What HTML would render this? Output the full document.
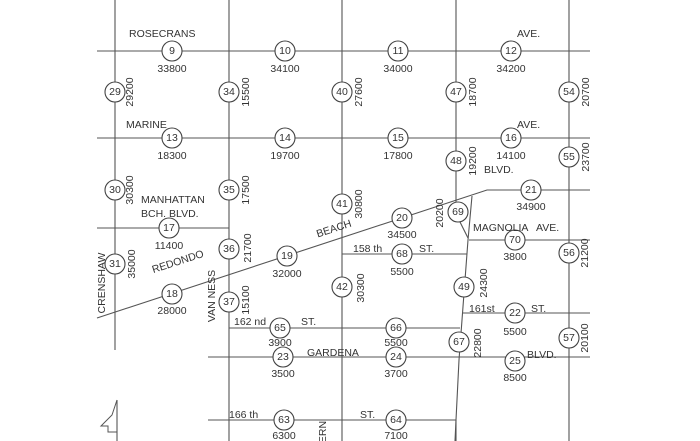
<!DOCTYPE html>
<html><head><meta charset="utf-8"><style>
html,body{margin:0;padding:0;background:#fff;}
svg{display:block;}
text{font-family:"Liberation Sans",sans-serif;font-size:10.5px;fill:#333;}
</style></head><body>
<svg width="700" height="441" viewBox="0 0 700 441" xmlns="http://www.w3.org/2000/svg">
<rect width="700" height="441" fill="#fff"/>
<g stroke="#555" stroke-width="1.1" fill="none">
<!-- verticals -->
<line x1="115" y1="0" x2="115" y2="350"/>
<line x1="229" y1="0" x2="229" y2="441"/>
<line x1="342" y1="0" x2="342" y2="441"/>
<line x1="456" y1="0" x2="456" y2="207"/>
<line x1="569" y1="0" x2="569" y2="441"/>
<!-- horizontals -->
<line x1="97" y1="51" x2="590" y2="51"/>
<line x1="97" y1="138" x2="590" y2="138"/>
<line x1="97" y1="228" x2="229" y2="228"/>
<polyline points="97,318 487,190 590,190"/>
<line x1="342" y1="254" x2="467" y2="254"/>
<line x1="469" y1="240" x2="590" y2="240"/>
<line x1="229" y1="328" x2="460" y2="328"/>
<line x1="208" y1="357" x2="590" y2="357"/>
<line x1="462" y1="313" x2="590" y2="313"/>
<line x1="208" y1="420" x2="456" y2="420"/>
<!-- curvy road -->
<polyline points="472,196 468,240 459,360 456,420 455,441"/>
<line x1="459" y1="220" x2="468" y2="238"/>
<line x1="456" y1="420" x2="456" y2="441"/>
<!-- north arrow -->
<polyline points="117,400 117,441"/>
<polyline points="117,400 112,415 101,426 108,426 108,432 117,432" stroke-width="1"/>
</g>
<g stroke="#444" stroke-width="1.1" fill="#fff">
<circle cx="172" cy="51" r="10"/><circle cx="285" cy="51" r="10"/><circle cx="398" cy="51" r="10"/><circle cx="511" cy="51" r="10"/>
<circle cx="115" cy="92" r="10"/><circle cx="229" cy="92" r="10"/><circle cx="342" cy="92" r="10"/><circle cx="456" cy="92" r="10"/><circle cx="569" cy="92" r="10"/>
<circle cx="172" cy="138" r="10"/><circle cx="285" cy="138" r="10"/><circle cx="398" cy="138" r="10"/><circle cx="511" cy="138" r="10"/>
<circle cx="115" cy="190" r="10"/><circle cx="229" cy="190" r="10"/><circle cx="342" cy="204" r="10"/><circle cx="456" cy="161" r="10"/><circle cx="569" cy="157" r="10"/>
<circle cx="169" cy="228" r="10"/><circle cx="229" cy="249" r="10"/><circle cx="115" cy="264" r="10"/><circle cx="172" cy="294" r="10"/>
<circle cx="287" cy="256" r="10"/><circle cx="402" cy="218" r="10"/><circle cx="458" cy="212" r="10"/><circle cx="531" cy="190" r="10"/>
<circle cx="402" cy="254" r="10"/><circle cx="515" cy="240" r="10"/><circle cx="569" cy="253" r="10"/><circle cx="342" cy="287" r="10"/>
<circle cx="229" cy="302" r="10"/><circle cx="464" cy="287" r="10"/>
<circle cx="280" cy="328" r="10"/><circle cx="396" cy="328" r="10"/><circle cx="459" cy="342" r="10"/><circle cx="515" cy="313" r="10"/><circle cx="569" cy="338" r="10"/>
<circle cx="283" cy="357" r="10"/><circle cx="396" cy="357" r="10"/><circle cx="515" cy="361" r="10"/>
<circle cx="284" cy="420" r="10"/><circle cx="396" cy="420" r="10"/>
</g>
<g text-anchor="middle" dominant-baseline="central">
<text x="172" y="51">9</text><text x="285" y="51">10</text><text x="398" y="51">11</text><text x="511" y="51">12</text>
<text x="115" y="92">29</text><text x="229" y="92">34</text><text x="342" y="92">40</text><text x="456" y="92">47</text><text x="569" y="92">54</text>
<text x="172" y="138">13</text><text x="285" y="138">14</text><text x="398" y="138">15</text><text x="511" y="138">16</text>
<text x="115" y="190">30</text><text x="229" y="190">35</text><text x="342" y="204">41</text><text x="456" y="161">48</text><text x="569" y="157">55</text>
<text x="169" y="228">17</text><text x="229" y="249">36</text><text x="115" y="264">31</text><text x="172" y="294">18</text>
<text x="287" y="256">19</text><text x="402" y="218">20</text><text x="458" y="212">69</text><text x="531" y="190">21</text>
<text x="402" y="254">68</text><text x="515" y="240">70</text><text x="569" y="253">56</text><text x="342" y="287">42</text>
<text x="229" y="302">37</text><text x="464" y="287">49</text>
<text x="280" y="328">65</text><text x="396" y="328">66</text><text x="459" y="342">67</text><text x="515" y="313">22</text><text x="569" y="338">57</text>
<text x="283" y="357">23</text><text x="396" y="357">24</text><text x="515" y="361">25</text>
<text x="284" y="420">63</text><text x="396" y="420">64</text>
<!-- values under -->
<text x="172" y="69">33800</text><text x="285" y="69">34100</text><text x="398" y="69">34000</text><text x="511" y="69">34200</text>
<text x="172" y="156">18300</text><text x="285" y="156">19700</text><text x="398" y="156">17800</text><text x="511" y="156">14100</text>
<text x="169" y="246">11400</text><text x="172" y="311">28000</text><text x="287" y="274">32000</text><text x="402" y="235">34500</text><text x="531" y="207">34900</text>
<text x="402" y="272">5500</text><text x="515" y="257">3800</text>
<text x="280" y="343">3900</text><text x="396" y="343">5500</text><text x="515" y="332">5500</text>
<text x="283" y="374">3500</text><text x="396" y="374">3700</text><text x="515" y="378">8500</text>
<text x="284" y="436">6300</text><text x="396" y="436">7100</text>
</g>
<g text-anchor="middle" dominant-baseline="central">
<text transform="translate(130,92) rotate(-90)">29200</text>
<text transform="translate(246,92) rotate(-90)">15500</text>
<text transform="translate(359,92) rotate(-90)">27600</text>
<text transform="translate(473,92) rotate(-90)">18700</text>
<text transform="translate(586,92) rotate(-90)">20700</text>
<text transform="translate(130,190) rotate(-90)">30300</text>
<text transform="translate(246,190) rotate(-90)">17500</text>
<text transform="translate(359,204) rotate(-90)">30800</text>
<text transform="translate(473,161) rotate(-90)">19200</text>
<text transform="translate(586,157) rotate(-90)">23700</text>
<text transform="translate(132,264) rotate(-90)">35000</text>
<text transform="translate(248,248) rotate(-90)">21700</text>
<text transform="translate(246,300) rotate(-90)">15100</text>
<text transform="translate(440,213) rotate(-90)">20200</text>
<text transform="translate(361,288) rotate(-90)">30300</text>
<text transform="translate(484,283) rotate(-90)">24300</text>
<text transform="translate(585,253) rotate(-90)">21200</text>
<text transform="translate(478,343) rotate(-90)">22800</text>
<text transform="translate(585,338) rotate(-90)">20100</text>
<text transform="translate(102,283) rotate(-90)">CRENSHAW</text>
<text transform="translate(212,296) rotate(-90)">VAN NESS</text>
<text transform="translate(323,432) rotate(-90)">ERN</text>
<text transform="translate(178,262) rotate(-18)">REDONDO</text>
<text transform="translate(334,229) rotate(-18)">BEACH</text>
</g>
<g>
<text x="129" y="37">ROSECRANS</text><text x="517" y="37">AVE.</text>
<text x="126" y="128">MARINE</text><text x="517" y="128">AVE.</text>
<text x="141" y="203">MANHATTAN</text><text x="141" y="217">BCH. BLVD.</text>
<text x="484" y="173">BLVD.</text>
<text x="353" y="252">158 th</text><text x="419" y="252">ST.</text>
<text x="473" y="231">MAGNOLIA</text><text x="536" y="231">AVE.</text>
<text x="234" y="325">162 nd</text><text x="301" y="325">ST.</text>
<text x="307" y="356">GARDENA</text>
<text x="469" y="312">161st</text><text x="531" y="312">ST.</text>
<text x="527" y="358">BLVD.</text>
<text x="229" y="418">166 th</text><text x="360" y="418">ST.</text>
</g>
</svg>
</body></html>
